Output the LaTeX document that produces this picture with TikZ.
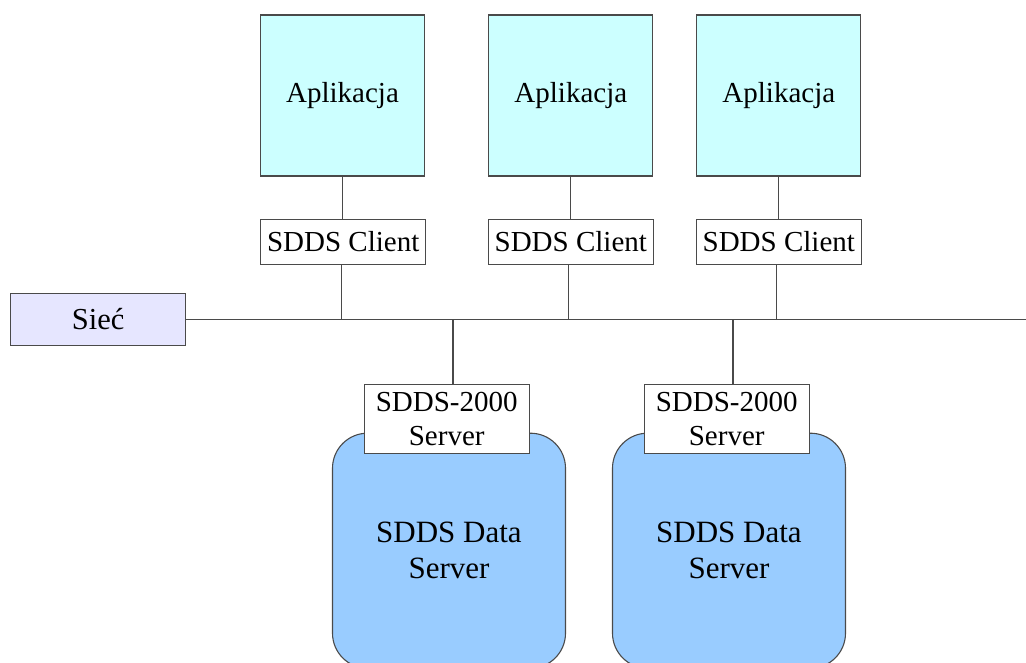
\documentclass[tikz,border=0pt]{standalone}
\usepackage{fontspec}
\setmainfont{Liberation Serif}
\usetikzlibrary{calc}
\definecolor{appfill}{HTML}{CCFFFF}
\definecolor{srvfill}{HTML}{99CCFF}
\definecolor{netfill}{HTML}{E6E6FF}
\definecolor{edge}{HTML}{4A4A4A}
\tikzset{
  box/.style={draw=edge, line width=1.1pt, rectangle, inner sep=0pt, align=center,
              font=\fontsize{29}{34}\selectfont},
  appbox/.style={box, fill=appfill, minimum width=164pt, minimum height=161pt},
  clientbox/.style={box, fill=white, minimum width=165pt, minimum height=45pt},
  netbox/.style={box, fill=netfill, minimum width=175pt, minimum height=52pt,
                 font=\fontsize{30.5}{36}\selectfont},
  serverbox/.style={box, fill=white, minimum width=165pt, minimum height=69pt},
  databox/.style={box, fill=srvfill, rounded corners=35pt, minimum width=233pt,
                  minimum height=235pt, font=\fontsize{31}{36}\selectfont},
  wire/.style={draw=edge, line width=1.1pt}
}
\begin{document}
\begin{tikzpicture}[x=1pt, y=-1pt]
  \clip (0,0) rectangle (1026,662);
  \fill[white] (0,0) rectangle (1026,662);

  % applications
  \node[appbox] (app1) at (342.5,95.5) {Aplikacja};
  \node[appbox] (app2) at (570.8,95.5) {Aplikacja};
  \node[appbox] (app3) at (778.8,95.5) {Aplikacja};

  % client libraries
  \node[clientbox] (cli1) at (343.2,241.7) {SDDS Client};
  \node[clientbox] (cli2) at (570.8,241.7) {SDDS Client};
  \node[clientbox] (cli3) at (778.8,241.7) {SDDS Client};

  % network
  \node[netbox] (net) at (98.2,319.5) {Sieć};
  \coordinate (netend) at (1026,319.5);
  \draw[wire] (net.east) -- (netend);

  % data servers
  \node[databox] (ds1) at (449,550.7) {SDDS Data\\Server};
  \node[databox] (ds2) at (729,550.7) {SDDS Data\\Server};
  \node[serverbox] (srv1) at (446.7,418.7) {SDDS-2000\\Server};
  \node[serverbox] (srv2) at (726.7,418.7) {SDDS-2000\\Server};

  % links from applications to clients
  \draw[wire] (app1.south) -- (app1.south |- cli1.north);
  \draw[wire] (app2.south) -- (app2.south |- cli2.north);
  \draw[wire] (app3.south) -- (app3.south |- cli3.north);

  % links from clients to network
  \draw[wire] ([xshift=-2pt]cli1.south) -- ([xshift=-2pt]cli1.south |- net.east);
  \draw[wire] ([xshift=-2pt]cli2.south) -- ([xshift=-2pt]cli2.south |- net.east);
  \draw[wire] ([xshift=-2pt]cli3.south) -- ([xshift=-2pt]cli3.south |- net.east);

  % links from network to servers
  \coordinate (tap1) at (453,319.5);
  \coordinate (tap2) at (733,319.5);
  \draw[wire] (tap1) -- (tap1 |- srv1.north);
  \draw[wire] (tap2) -- (tap2 |- srv2.north);
\end{tikzpicture}
\end{document}
